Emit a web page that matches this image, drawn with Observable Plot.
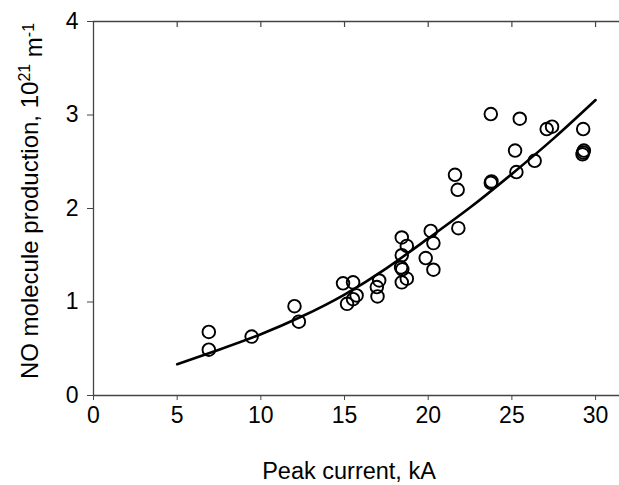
<!DOCTYPE html>
<html><head><meta charset="utf-8">
<script src="https://cdn.jsdelivr.net/npm/d3@7"></script>
<script src="https://cdn.jsdelivr.net/npm/@observablehq/plot@0.6"></script>
<style>
body{margin:0;background:#fff;}
#chart{position:relative;width:619px;height:485px;}
</style></head><body><div id="chart"></div>
<script>
// Measured points: peak current (kA) and NO production (10^21 m^-1)
const current = [6.89, 6.89, 9.45, 12.01, 12.27, 14.91, 15.51, 15.15, 15.51, 15.72,
  16.93, 17.07, 16.97, 18.42, 18.72, 18.42, 18.38, 18.45, 18.42, 18.72,
  20.15, 20.31, 19.85, 20.31, 21.8, 21.6, 21.76, 23.74, 23.74, 23.78,
  25.47, 25.19, 25.27, 26.36, 27.08, 27.4, 29.26, 29.26, 29.3, 29.22];
const production = [0.68, 0.49, 0.63, 0.955, 0.79, 1.20, 1.21, 0.98, 1.03, 1.07,
  1.16, 1.23, 1.06, 1.69, 1.60, 1.50, 1.37, 1.35, 1.21, 1.25,
  1.76, 1.63, 1.47, 1.345, 1.79, 2.36, 2.20, 3.01, 2.275, 2.29,
  2.96, 2.62, 2.39, 2.51, 2.85, 2.875, 2.85, 2.60, 2.62, 2.58];
// Fitted curve
const fitCurrent = [5, 7.5, 10, 12.5, 15, 17.5, 20, 22.5, 25, 27.5, 30];
const fitProduction = [0.334, 0.49, 0.655, 0.85, 1.08, 1.36, 1.68, 2.01, 2.37, 2.75, 3.16];
const xTicks = [0, 5, 10, 15, 20, 25, 30];
const yTicks = [0, 1, 2, 3, 4];
const xTitle = "Peak current, kA";

const points = current.map((c, i) => ({c, p: production[i]}));
const fit = fitCurrent.map((c, i) => ({c, p: fitProduction[i]}));

const font = "'Liberation Sans', Arial, sans-serif";
const axisColor = "#444";
const frameH = 485 - 21 - 90;

const chart = Plot.plot({
  width: 619, height: 485,
  marginLeft: 93, marginRight: 0, marginTop: 21, marginBottom: 90,
  style: {fontFamily: font, fontSize: "23px", background: "white", color: "black"},
  x: {domain: [0, 31.43], label: null},
  y: {domain: [0, 4], label: null},
  marks: [
    Plot.ruleY([0, 4], {stroke: axisColor, strokeWidth: 1.3}),
    Plot.ruleX([0], {stroke: axisColor, strokeWidth: 1.3}),
    Plot.ruleX(xTicks.slice(1), {stroke: axisColor, strokeWidth: 1.2, insetBottom: frameH - 6}),
    Plot.axisX({ticks: xTicks, tickSize: 5, tickPadding: 6, tickFormat: d3.format("d"), label: null, fontSize: 23, stroke: axisColor}),
    Plot.axisY({ticks: yTicks, tickSize: 6, tickPadding: 9, tickFormat: d3.format("d"), label: null, fontSize: 23, stroke: axisColor}),
    Plot.line(fit, {x: "c", y: "p", curve: "natural", stroke: "black", strokeWidth: 2.6}),
    Plot.dot(points, {x: "c", y: "p", r: 6.3, stroke: "black", strokeWidth: 1.9, fill: "none"})
  ]
});
document.getElementById("chart").appendChild(chart);

const svg = d3.select(chart);
svg.append("text")
  .attr("x", 349).attr("y", 479)
  .attr("text-anchor", "middle")
  .style("font-family", font).style("font-size", "23.5px").attr("fill", "black")
  .text(xTitle);

const yt = svg.append("text")
  .attr("transform", "translate(38,201) rotate(-90)")
  .attr("text-anchor", "middle")
  .style("font-family", font).style("font-size", "24px").attr("fill", "black");
yt.append("tspan").text("NO molecule production, 10");
yt.append("tspan").attr("dy", "-0.5em").style("font-size", "16px").text("21");
yt.append("tspan").attr("dy", "0.5em").text(" m");
yt.append("tspan").attr("dy", "-0.5em").style("font-size", "16px").text("-1");
</script>
</body></html>
